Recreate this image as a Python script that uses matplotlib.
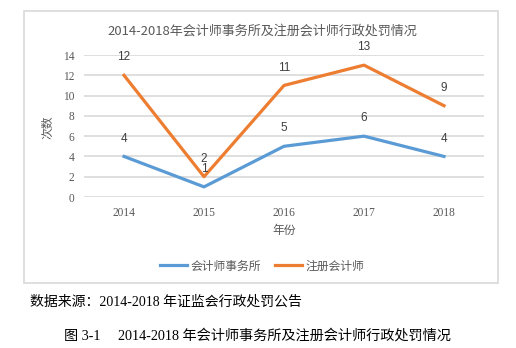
import matplotlib.pyplot as plt
from matplotlib.patches import Rectangle

plt.rcParams['font.family'] = ['Noto Sans CJK SC', 'DejaVu Sans']

years = ['2014', '2015', '2016', '2017', '2018']
firms = [4, 1, 5, 6, 4]          # 会计师事务所
accountants = [12, 2, 11, 13, 9]  # 注册会计师
yticks = [0, 2, 4, 6, 8, 10, 12, 14]

W, H = 516, 348
fig = plt.figure(figsize=(W / 100, H / 100), dpi=100)

# chart frame
fig.patches.append(Rectangle((24 / W, 1 - 283 / H), 474 / W, 272 / H,
                             transform=fig.transFigure, fill=False,
                             edgecolor='#d9d9d9', linewidth=1.2))

ax = fig.add_axes([84 / W, 1 - 197 / H, 400 / W, 142 / H])
x = range(len(years))
ax.plot(x, firms, color='#5b9bd5', linewidth=2.3, label='会计师事务所', zorder=3)
ax.plot(x, accountants, color='#ed7d31', linewidth=2.3, label='注册会计师', zorder=3)

for series in (firms, accountants):
    for i, v in enumerate(series):
        ax.annotate(str(v), (i, v), xytext=(0, 8.5), textcoords='offset points',
                    ha='center', va='bottom', fontsize=8.5, color='#404040',
                    family='Liberation Sans')

ax.set_xlim(-0.5, 4.5)
ax.set_ylim(0, 14)
ax.set_yticks(yticks)
ax.set_xticks(list(x))
ax.set_xticklabels(years)
ax.tick_params(length=0, labelsize=8.3, colors='#595959', pad=7)
for lab in ax.get_xticklabels() + ax.get_yticklabels():
    lab.set_family('Liberation Serif')
ax.grid(axis='y', color='#d9d9d9', linewidth=1.2)
ax.set_axisbelow(True)
for s in ax.spines.values():
    s.set_visible(False)

fig.text(262 / W, 1 - 31 / H, '2014-2018年会计师事务所及注册会计师行政处罚情况',
         ha='center', va='center', fontsize=9.4, color='#595959')
fig.text(48 / W, 1 - 127 / H, '次数', rotation=90, ha='center', va='center',
         fontsize=8.5, color='#595959')
fig.text(284 / W, 1 - 230 / H, '年份', ha='center', va='center',
         fontsize=8.5, color='#595959')

fig.legend(loc='center', bbox_to_anchor=(262 / W, 1 - 266 / H), ncol=2,
           frameon=False, fontsize=8.5, handlelength=2.3, columnspacing=1.2,
           handletextpad=0.3, labelcolor='#595959')

serif_cjk = ['Liberation Serif', 'Noto Sans CJK SC']
fig.text(30 / W, 1 - 302 / H, '数据来源：2014-2018 年证监会行政处罚公告',
         ha='left', va='center', fontsize=10, color='black', family=serif_cjk)
fig.text(64 / W, 1 - 336 / H, '图 3-1     2014-2018 年会计师事务所及注册会计师行政处罚情况',
         ha='left', va='center', fontsize=10.2, color='black', family=serif_cjk)

fig.savefig('out.png', dpi=100)
